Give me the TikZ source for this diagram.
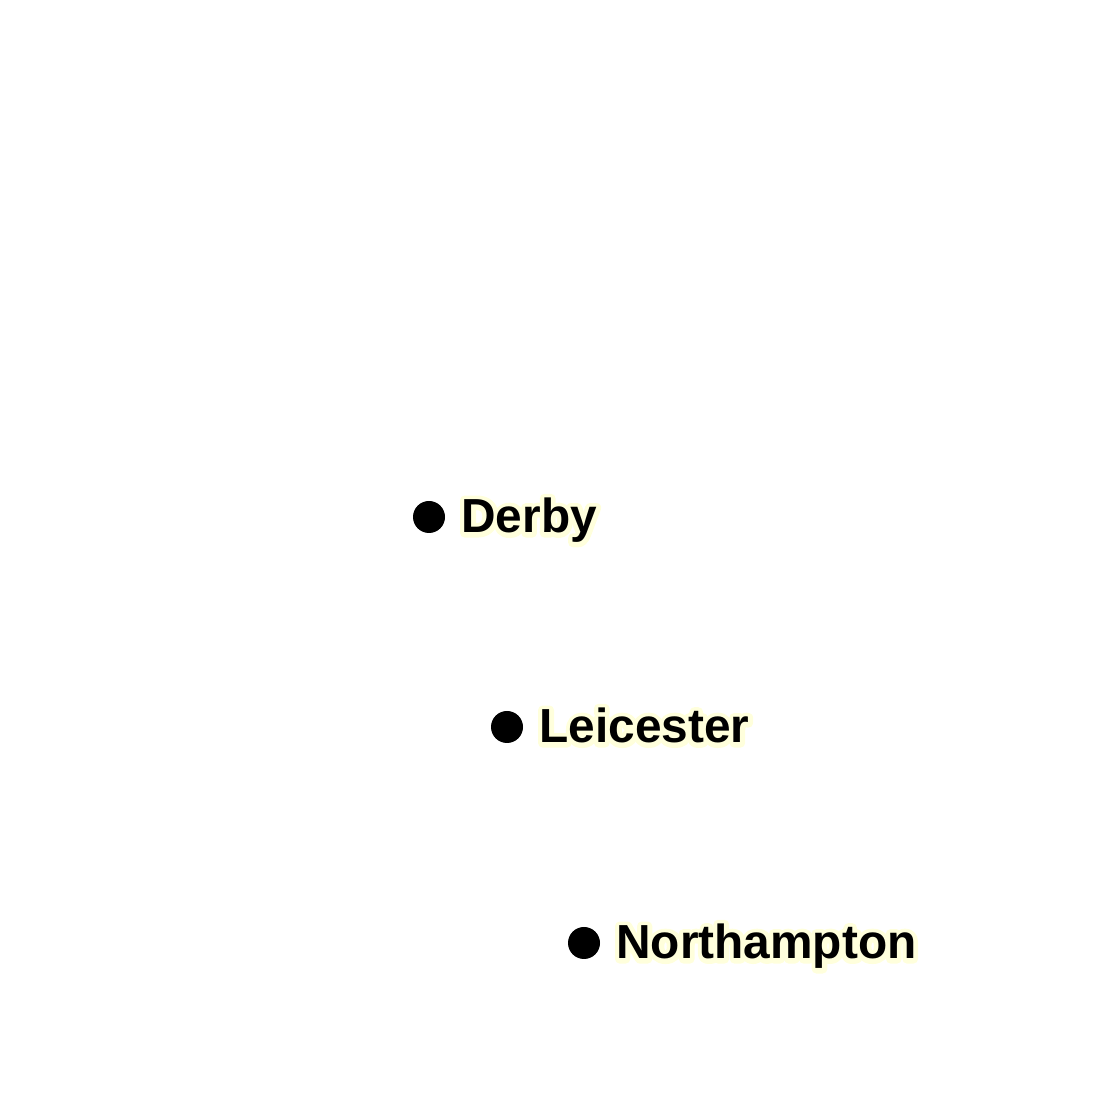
\documentclass[tikz,border=0pt]{standalone}
\usepackage{fontspec}
\setmainfont{Liberation Sans}
\usetikzlibrary{positioning}
\definecolor{halo}{HTML}{FFFFDC}
\newcommand{\citylabelfont}{\fontsize{13.6}{17}\selectfont\bfseries}
\newcommand{\halotext}[1]{\special{pdf:literal direct 1 Tr 2.6 w 1 j}#1\special{pdf:literal direct 0 Tr}}
\begin{document}
\begin{tikzpicture}[
  city/.style={circle, fill=black, inner sep=0pt, minimum size=0.32cm},
  citylabel/.style={anchor=base west, inner sep=0pt, font=\citylabelfont},
  citohalo/.style={citylabel, text=halo},
]
\useasboundingbox (0,0) rectangle (11,11);

%the cities
\node[city] (derby) at (4.29,5.83) {};
\node[city] (leicester) at (5.07,3.73) {};
\node[city] (northampton) at (5.84,1.57) {};

%labels with a light halo behind them
\foreach \name/\txt in {derby/Derby, leicester/Leicester, northampton/Northampton}{
  \coordinate (\name-pos) at ([xshift=0.15cm,yshift=-0.16cm]\name.east);
  \node[citohalo] at (\name-pos) {\halotext{\txt}};
  \node[citylabel] (\name-label) at (\name-pos) {\txt};
}
\end{tikzpicture}
\end{document}
